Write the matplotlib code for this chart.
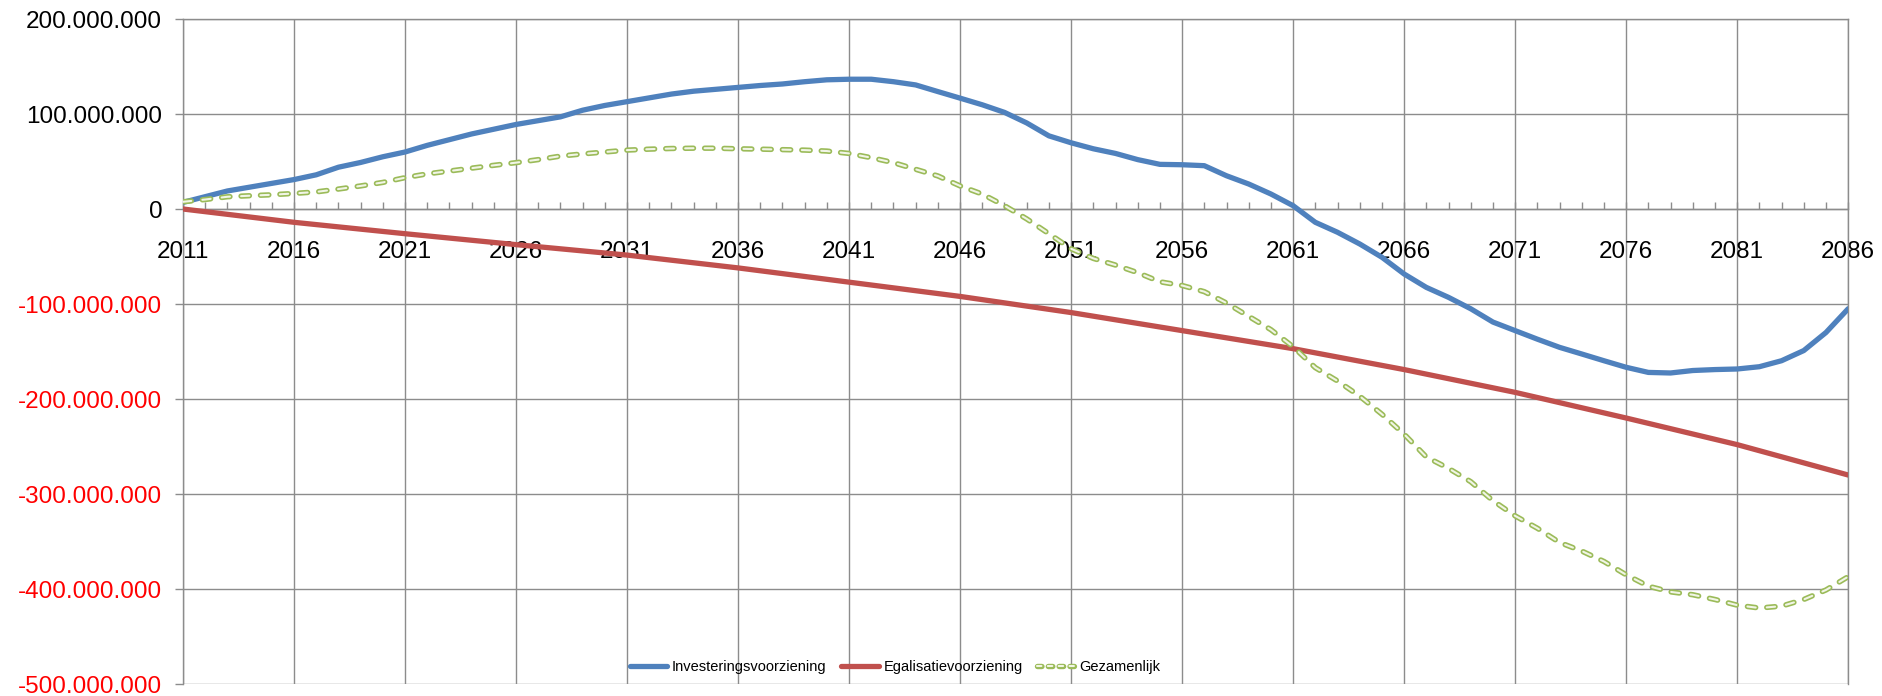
import matplotlib
matplotlib.use("Agg")
import matplotlib.pyplot as plt
from matplotlib.legend_handler import HandlerTuple
from matplotlib.ticker import FuncFormatter, MultipleLocator

# Jaren (jaarlijks voor blauw en groen, om de 5 jaar voor rood)
years = list(range(2011, 2087))
years_5 = list(range(2011, 2087, 5))

# Investeringsvoorziening (miljoen)
invest = [
    7, 13, 19, 23, 27, 31, 36, 44, 49, 55,
    60, 67, 73, 79, 84, 89, 93, 97, 104, 109,
    113, 117, 121, 124, 126, 128, 130, 131.6, 134, 136,
    136.6, 136.6, 134, 130.6, 123.6, 116.7, 109.7, 101.7, 90.6, 77,
    69.7, 63.4, 58.5, 52, 47, 46.6, 45.6, 35, 26.3, 15.8,
    3.5, -14, -24.5, -36.8, -50.8, -68.4, -82.5, -93, -105, -119,
    -128, -137, -145.6, -152.6, -159.7, -166.6, -172, -172.6, -170, -169,
    -168.4, -166, -159.7, -149, -130, -105,
]

# Egalisatievoorziening (miljoen)
egalisatie = [0, -14, -26, -37.5, -48.5, -62, -77, -92, -109, -128,
              -147, -169, -193, -220, -248, -280]

# Gezamenlijk (miljoen)
gezamenlijk = [
    7.6, 10, 12.9, 14, 15, 16.4, 18, 21, 24.3, 28,
    33, 37, 40, 43, 46, 48.8, 52, 55.7, 58, 60,
    62, 63, 63.7, 64, 64, 63.4, 63, 62.5, 62, 61,
    58.5, 54, 48.8, 41.8, 34.8, 24.3, 15.7, 3.5, -10.4, -26,
    -41.8, -52, -59, -67, -76.6, -80.5, -87, -99, -113, -127,
    -145, -167, -181, -197, -216, -237, -261, -273, -287, -307,
    -323, -336, -351, -360, -371, -385, -397, -403, -406, -411,
    -417, -420, -418, -411, -401, -387,
]

y_ticks = list(range(-500, 201, 100))

BLUE = "#4f81bd"
RED = "#c0504d"
GREEN = "#9bbb59"
GREEN_IN = "#f1f5e6"
GRID = "#8c8c8c"

plt.rcParams["font.family"] = ["Liberation Sans", "DejaVu Sans"]
plt.rcParams["lines.scale_dashes"] = False

fig = plt.figure(figsize=(18.83, 6.96), dpi=100)
ax = fig.add_axes([0.0972, 0.0172, 0.8843, 0.9555])

m = 1e6
l_inv, = ax.plot(years, [v * m for v in invest], color=BLUE, lw=3.8,
                 solid_capstyle="round", solid_joinstyle="round", zorder=4)
l_ega, = ax.plot(years_5, [v * m for v in egalisatie], color=RED, lw=3.8,
                 solid_capstyle="round", zorder=3)

# groene lijn: holle streepjes (buitenrand + lichte binnenkant)
dash = (0, (6.0, 8.0))
ax.plot(years, [v * m for v in gezamenlijk], color=GREEN, lw=3.9,
        linestyle=dash, dash_capstyle="round", zorder=5)
ax.plot(years, [v * m for v in gezamenlijk], color=GREEN_IN, lw=1.5,
        linestyle=dash, dash_capstyle="round", zorder=6)

# legenda-handle voor groen
leg_dash = (0, (3.2, 4.6))
g_out, = ax.plot([], [], color=GREEN, lw=3.9, linestyle=leg_dash, dash_capstyle="round")
g_in, = ax.plot([], [], color=GREEN_IN, lw=1.5, linestyle=leg_dash, dash_capstyle="round")

ax.set_xlim(2011, 2086)
ax.set_ylim(-500 * m, 200 * m)

ax.set_yticks([v * m for v in y_ticks])
ax.yaxis.set_major_formatter(FuncFormatter(lambda v, p: f"{int(round(v)):,}".replace(",", ".")))
ax.tick_params(axis="y", direction="out", length=6, width=1, color=GRID,
               labelsize=17.5, pad=9)
for lab, v in zip(ax.get_yticklabels(), y_ticks):
    lab.set_color("#ff0000" if v < 0 else "black")

ax.set_xticks(years_5)
ax.xaxis.set_minor_locator(MultipleLocator(1))
ax.tick_params(axis="x", which="both", direction="in", length=5, width=1,
               color=GRID, labelsize=17.5, pad=23)
ax.spines["bottom"].set_position(("data", 0))

ax.grid(True, which="major", color=GRID, lw=1)
ax.set_axisbelow(True)
for s in ax.spines.values():
    s.set_color(GRID)
    s.set_linewidth(1)

leg = ax.legend([l_inv, l_ega, (g_out, g_in)],
                ["Investeringsvoorziening", "Egalisatievoorziening", "Gezamenlijk"],
                handler_map={tuple: HandlerTuple(ndivide=1, pad=0)},
                loc="center", bbox_to_anchor=(0.4276, 0.0256),
                ncol=3, frameon=False, handlelength=2.6, handletextpad=0.3,
                columnspacing=1.0, fontsize=10.5)

fig.savefig("out.png", dpi=100)
